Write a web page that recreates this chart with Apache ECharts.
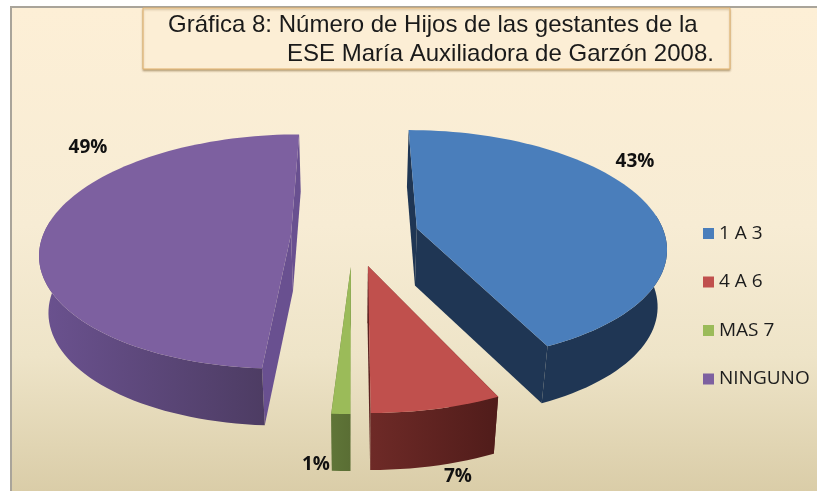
<!DOCTYPE html>
<html>
<head>
<meta charset="utf-8">
<style>html,body{margin:0;padding:0;background:#fff}#c{width:817px;height:491px}</style>
<script src="https://cdn.jsdelivr.net/npm/echarts@6/dist/echarts.min.js"></script>
</head>
<body>
<div id="c"></div>
<script>
const categories = ['1 A 3', '4 A 6', 'MAS 7', 'NINGUNO'];
const percentValues = [43, 7, 1, 49];
const titleLines = ['Gráfica 8: Número de Hijos de las gestantes de la', 'ESE María Auxiliadora de Garzón 2008.'];

const topColors = ['#4A7EBB', '#C0504D', '#9BBB59', '#7D60A0'];
const wallStart = ['#1F3654', '#6E2A27', '#5F7538', '#6B5290'];
const wallEnd = ['#1F3654', '#501C1A', '#5A6E34', '#4D3C63'];
const cutColors = ['#1F3654', '#5C2220', '#5F7538', '#695090'];
const labelSpots = [[635, 162], [458, 477], [316, 465], [88, 148]];
const explodeBy = [0.266, 0.266, 0.266, 0.25];

// projection of the exploded disc
const view = {cx: 353, cy: 235, a: 248, b: 114.8, persp: 0.149, depth: 57, shrink: 0.97};
const total = percentValues.reduce((s, v) => s + v, 0);
const rad = d => d * Math.PI / 180;

function project(u, v) {
  const s = 1 / (1 + view.persp * v);
  return [view.cx + view.a * u * s, view.cy - view.b * v * s];
}
function dropped(p) {
  return [view.cx + (p[0] - view.cx) * view.shrink, p[1] + view.depth];
}
function slice(index, value) {
  const before = percentValues.slice(0, index).reduce((s, v) => s + v, 0);
  const start = before / total * 360;
  const end = start + value / total * 360;
  const mid = rad((start + end) / 2);
  const hu = explodeBy[index] * Math.sin(mid), hv = explodeBy[index] * Math.cos(mid);
  const hub = project(hu, hv);
  const arc = [], front = [];
  const n = Math.max(2, Math.ceil((end - start) / 2));
  for (let i = 0; i <= n; i++) {
    const t = rad(start + (end - start) * i / n);
    const p = project(hu + Math.sin(t), hv + Math.cos(t));
    arc.push(p);
    if (Math.cos(t) < 0.12) front.push(p);
  }
  return {hub, arc, front};
}
function makeRender(index) {
  return function (params, api) {
    const g = slice(index, api.value(0));
    const frontLow = g.front.map(dropped);
    const hubLow = dropped(g.hub);
    const first = g.arc[0], last = g.arc[g.arc.length - 1];
    const children = [
      {type: 'polygon', shape: {points: [g.hub, first, dropped(first), hubLow]}, style: {fill: cutColors[index]}},
      {type: 'polygon', shape: {points: [g.hub, last, dropped(last), hubLow]}, style: {fill: cutColors[index]}},
      {type: 'polygon', shape: {points: g.front.concat(frontLow.slice().reverse())},
        style: {fill: {type: 'linear', x: 0, y: 0, x2: 1, y2: 0,
          colorStops: [{offset: 0, color: wallStart[index]}, {offset: 1, color: wallEnd[index]}]}}},
      {type: 'polygon', shape: {points: [g.hub].concat(g.arc)}, style: {fill: topColors[index]}},
      {type: 'text', style: {x: labelSpots[index][0], y: labelSpots[index][1], text: api.value(0) + '%',
        align: 'center', verticalAlign: 'middle', fill: '#111',
        font: 'bold 19px "Open Sans", sans-serif'}}
    ];
    return {type: 'group', children};
  };
}

const chart = echarts.init(document.getElementById('c'), null, {renderer: 'canvas'});
chart.setOption({
  animation: false,
  backgroundColor: '#ffffff',
  title: [
    {text: titleLines[0], left: 168, top: 13, padding: 0,
      textStyle: {fontFamily: 'Liberation Sans', fontSize: 24, fontWeight: 'normal', color: '#1a1a1a'}},
    {text: titleLines[1], left: 287, top: 42, padding: 0,
      textStyle: {fontFamily: 'Liberation Sans', fontSize: 24, fontWeight: 'normal', color: '#1a1a1a'}}
  ],
  legend: {
    orient: 'vertical', left: 703, top: 224, padding: 0, itemWidth: 11, itemHeight: 11, itemGap: 29.5,
    icon: 'rect', selectedMode: false, data: categories,
    textStyle: {fontFamily: 'Open Sans', fontSize: 19, lineHeight: 18, color: '#1c1c1c'}
  },
  graphic: [
    {type: 'rect', z: -10, shape: {x: 10, y: 6, width: 807, height: 485},
      style: {fill: '#A9A49A'}},
    {type: 'rect', z: -9, shape: {x: 12, y: 8, width: 805, height: 483},
      style: {fill: {type: 'linear', x: 0, y: 0, x2: 0, y2: 1, colorStops: [
        {offset: 0, color: '#FDEFD6'}, {offset: 0.45, color: '#F7ECD4'},
        {offset: 0.72, color: '#EEE4C8'}, {offset: 1, color: '#DACDA8'}]}}},
    {type: 'rect', z: -8, shape: {x: 143, y: 8, width: 587, height: 61},
      style: {fill: '#FCEED5', stroke: '#E3B26C', lineWidth: 1,
        shadowBlur: 2, shadowOffsetY: 1.5, shadowColor: 'rgba(120,90,40,0.4)'}}
  ],
  series: categories.map((name, i) => ({
    type: 'custom', name, coordinateSystem: 'none', silent: true,
    itemStyle: {color: topColors[i]},
    data: [[percentValues[i]]],
    renderItem: makeRender(i)
  }))
});
</script>
</body>
</html>
